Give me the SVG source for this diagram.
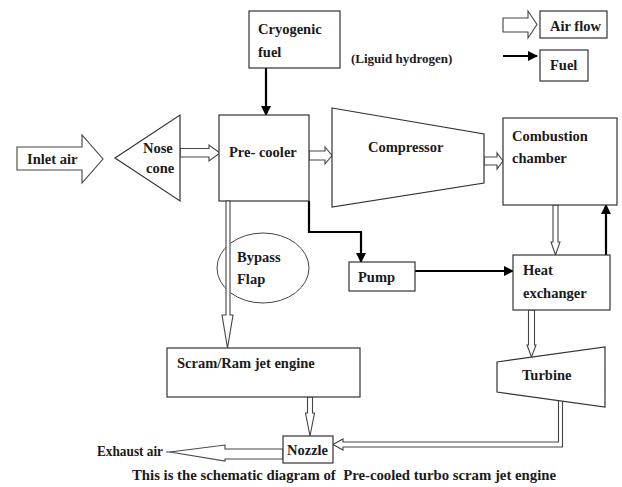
<svg xmlns="http://www.w3.org/2000/svg" width="622" height="487" viewBox="0 0 622 487">
<style>
.box{fill:#fff;stroke:#333;stroke-width:1.2}
.air{fill:#fff;stroke:#444;stroke-width:1.1;stroke-linejoin:miter}
.fuel{fill:none;stroke:#000;stroke-width:2.2}
.t{font-family:"Liberation Serif","Times New Roman",serif;font-weight:bold;font-size:14.5px;fill:#1a1a1a}
.s{font-size:13px}
.ell{fill:none;stroke:#444;stroke-width:1}
</style>
<defs>
<marker id="ah" markerUnits="userSpaceOnUse" markerWidth="10" markerHeight="10" refX="9" refY="5" orient="auto">
<path d="M0,0 L10,5 L0,10 Z" fill="#000"/>
</marker>
</defs>
<rect width="622" height="487" fill="#fff"/>

<g id="legend">
<path class="air" d="M503,18 L528,18 L528,11 L537,24.5 L528,38 L528,32 L503,32 Z"/>
<rect class="box" x="540" y="11" width="67" height="27"/>
<text class="t" x="550" y="31">Air flow</text>
<line class="fuel" x1="503" y1="56" x2="537" y2="56" marker-end="url(#ah)"/>
<rect class="box" x="540" y="50" width="48" height="31"/>
<text class="t" x="550" y="70">Fuel</text>
</g>

<g id="connectors">
<path class="air" d="M17,147 L82,147 L82,135 L103,159 L82,183 L82,170 L17,170 Z"/>
<path class="air" d="M180,148.5 L209,148.5 L209,145 L220,153 L209,161 L209,157 L180,157 Z"/>
<path class="air" d="M309,151 L325,151 L325,147 L332,155.5 L325,164 L325,160 L309,160 Z"/>
<path class="air" d="M484,157 L497,157 L497,153 L503,161 L497,169 L497,165 L484,165 Z"/>
<path class="air" d="M553,205 L553,242 L551,242 L555.5,255 L560,242 L558,242 L558,205 Z"/>
<path class="air" d="M528.5,310 L528.5,345 L527,345 L531.5,357 L536,345 L534.5,345 L534.5,310 Z"/>
<path class="air" d="M307.5,397 L307.5,413 L305.5,413 L310,436 L314.5,413 L312.5,413 L312.5,397 Z"/>
<path class="air" d="M558.5,401 L558.5,442 L343,442 L343,439 L333,444.5 L343,450 L343,447 L562.5,447 L562.5,401"/>
<path class="air" d="M283,449 L225,449 L225,445 L170,452 L225,461 L225,459 L283,459 Z"/>
<line x1="166" y1="452" x2="171" y2="452" stroke="#444" stroke-width="1"/>
<line class="fuel" x1="266" y1="68" x2="266" y2="115" marker-end="url(#ah)"/>
<polyline class="fuel" points="309,201 309,232 361,232 361,262" marker-end="url(#ah)"/>
<line class="fuel" x1="415" y1="271" x2="513" y2="271" marker-end="url(#ah)"/>
<line class="fuel" x1="606" y1="255" x2="606" y2="205" marker-end="url(#ah)"/>
</g>

<g id="cryogenic">
<rect class="box" x="249" y="11" width="91" height="57"/>
<text class="t" x="258" y="34">Cryogenic</text>
<text class="t" x="258" y="57">fuel</text>
</g>
<text class="t s" x="351" y="63">(Liguid hydrogen)</text>

<g id="inlet">
<text class="t" x="27" y="164">Inlet air</text>
</g>

<g id="nosecone">
<polygon class="box" points="115,158 180,115 180,201"/>
<text class="t" x="143" y="153">Nose</text>
<text class="t" x="146" y="173">cone</text>
</g>

<g id="precooler">
<rect class="box" x="219" y="115" width="90" height="86"/>
<text class="t" x="229" y="157">Pre- cooler</text>
</g>

<g id="compressor">
<polygon class="box" points="332,108 484,134 484,183 332,207"/>
<text class="t" x="368" y="152">Compressor</text>
</g>

<g id="combustion">
<rect class="box" x="503" y="118" width="114" height="87"/>
<text class="t" x="512" y="141">Combustion</text>
<text class="t" x="512" y="163">chamber</text>
</g>

<g id="bypass">
<ellipse class="ell" cx="263" cy="268" rx="46" ry="35"/>
<path class="air" d="M226,201 L226,315 L222,315 L227.5,348 L233,315 L230,315 L230,201 Z"/>
<text class="t" x="237" y="262">Bypass</text>
<text class="t" x="237" y="284">Flap</text>
</g>

<g id="pump">
<rect class="box" x="349" y="262" width="66" height="29"/>
<text class="t" x="358" y="282">Pump</text>
</g>

<g id="heatexchanger">
<rect class="box" x="513" y="255" width="97" height="55"/>
<text class="t" x="523" y="275">Heat</text>
<text class="t" x="523" y="298">exchanger</text>
</g>

<g id="turbine">
<polygon class="box" points="497,362 605,347 605,407 497,392"/>
<text class="t" x="522" y="380">Turbine</text>
</g>

<g id="scramjet">
<rect class="box" x="167" y="348" width="193" height="49"/>
<text class="t" x="177" y="368">Scram/Ram jet engine</text>
</g>

<g id="nozzle">
<rect class="box" x="283" y="436" width="50" height="27"/>
<text class="t" x="287" y="455">Nozzle</text>
</g>

<g id="exhaust">
<text class="t" x="97" y="456" textLength="66" lengthAdjust="spacingAndGlyphs">Exhaust air</text>
</g>

<text class="t" x="132" y="480" xml:space="preserve" style="white-space:pre" textLength="424" lengthAdjust="spacingAndGlyphs">This is the schematic diagram of  Pre-cooled turbo scram jet engine</text>
</svg>
